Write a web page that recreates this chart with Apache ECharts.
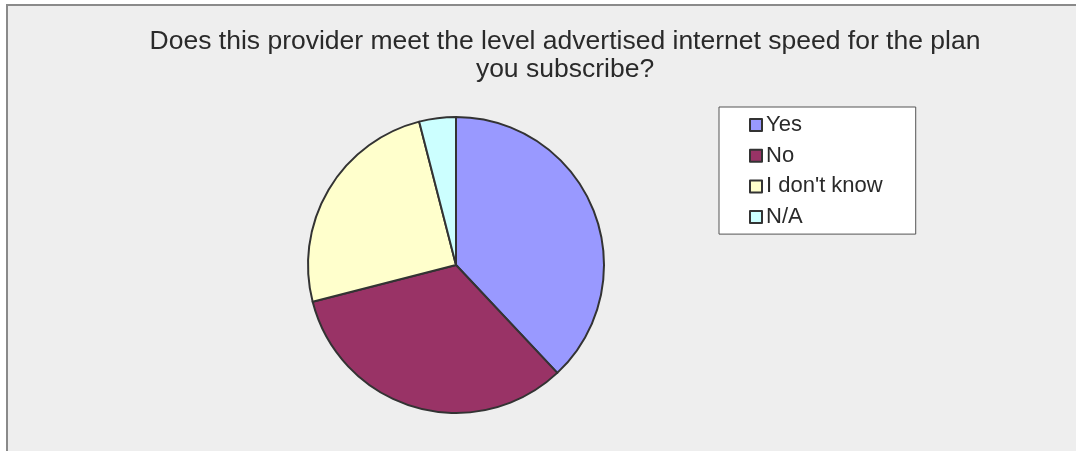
<!DOCTYPE html>
<html>
<head>
<meta charset="utf-8">
<script src="https://cdn.jsdelivr.net/npm/echarts@6/dist/echarts.min.js"></script>
<style>
  html, body { margin: 0; padding: 0; background: #ffffff; }
  #chart { width: 1076px; height: 451px; }
</style>
</head>
<body>
<div id="chart"></div>
<script>
// Survey answers and their share of responses (%)
const categories = ['Yes', 'No', "I don't know", 'N/A'];
const shares = [38, 33, 25, 4];
const sliceColors = ['#9999ff', '#993366', '#ffffcc', '#ccffff'];

const titleText = 'Does this provider meet the level advertised internet speed for the plan\nyou subscribe?';

const chart = echarts.init(document.getElementById('chart'), null, { renderer: 'canvas' });

chart.setOption({
  backgroundColor: '#ffffff',
  animation: false,
  graphic: [{
    type: 'rect',
    z: -10,
    shape: { x: 7, y: 5, width: 1200, height: 600 },
    style: { fill: '#eeeeee', stroke: '#8a8a8a', lineWidth: 2 }
  }],
  title: {
    text: titleText,
    left: 565,
    top: 27,
    textAlign: 'center',
    padding: 0,
    textStyle: {
      fontFamily: 'Liberation Sans, Arial, sans-serif',
      fontSize: 26.5,
      fontWeight: 'normal',
      color: '#2a2a2a',
      lineHeight: 28.5
    }
  },
  legend: {
    orient: 'vertical',
    left: 719,
    top: 107,
    padding: [7, 33, 6, 30],
    backgroundColor: '#ffffff',
    borderColor: '#555555',
    borderWidth: 1,
    borderRadius: 0,
    icon: 'rect',
    itemWidth: 12,
    itemHeight: 12,
    itemGap: 8.7,
    data: categories,
    itemStyle: { borderColor: '#333333', borderWidth: 2 },
    textStyle: {
      fontFamily: 'Liberation Sans, Arial, sans-serif',
      fontSize: 22,
      color: '#2a2a2a',
      padding: [0, 0, 0, -1],
      lineHeight: 22
    }
  },
  series: [{
    type: 'pie',
    center: [456, 265],
    radius: [0, 148],
    startAngle: 90,
    clockwise: true,
    label: { show: false },
    labelLine: { show: false },
    emphasis: { disabled: true },
    itemStyle: { borderColor: '#333333', borderWidth: 2 },
    data: categories.map((name, i) => ({
      name: name,
      value: shares[i],
      itemStyle: { color: sliceColors[i] }
    }))
  }]
});
</script>
</body>
</html>
